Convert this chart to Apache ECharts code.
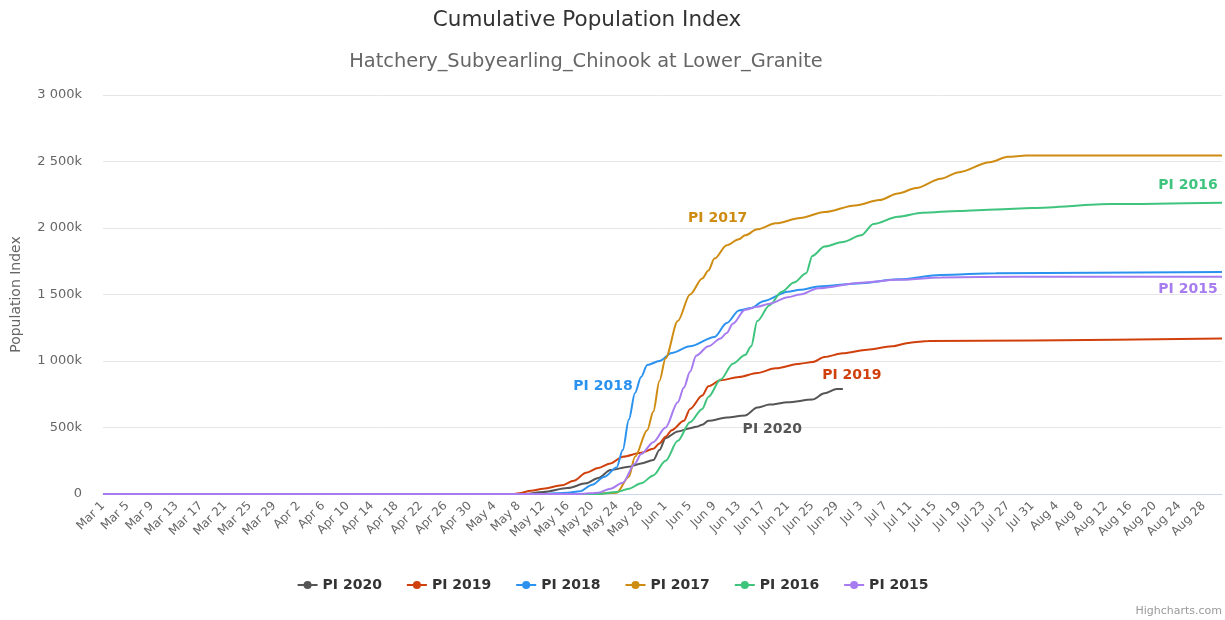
<!DOCTYPE html>
<html>
<head>
<meta charset="utf-8">
<script src="https://cdn.jsdelivr.net/npm/echarts@6/dist/echarts.min.js"></script>
<style>
  html, body { margin: 0; padding: 0; background: #fff; }
  #chart { width: 1225px; height: 620px; }
</style>
</head>
<body>
<div id="chart"></div>
<script>
// x axis: every day from Mar 1 to Aug 31
const months = ['Mar', 'Apr', 'May', 'Jun', 'Jul', 'Aug'];
const monthDays = [31, 30, 31, 30, 31, 31];
const dates = [];
months.forEach(function (m, i) {
  for (let d = 1; d <= monthDays[i]; d++) dates.push(m + ' ' + d);
});

// cumulative population index, in thousands, [date, value]
const pi2020 = [['Mar 1', 0], ['May 9', 0], ['May 12', 15], ['May 16', 45], ['May 19', 80], ['May 21', 120],
  ['May 23', 180], ['May 26', 205], ['May 28', 230], ['May 30', 255], ['May 31', 330], ['Jun 1', 420],
  ['Jun 3', 470], ['Jun 5', 494], ['Jun 6', 505], ['Jun 7', 520], ['Jun 8', 550], ['Jun 11', 575],
  ['Jun 14', 590], ['Jun 16', 650], ['Jun 18', 672], ['Jun 21', 690], ['Jun 25', 710], ['Jun 27', 757],
  ['Jun 29', 789], ['Jun 30', 790]];

const pi2019 = [['Mar 1', 0], ['May 7', 0], ['May 8', 5], ['May 10', 25], ['May 12', 40], ['May 15', 65],
  ['May 17', 100], ['May 19', 160], ['May 21', 195], ['May 23', 230], ['May 25', 280], ['May 28', 310],
  ['May 30', 340], ['May 31', 380], ['Jun 1', 430], ['Jun 2', 480], ['Jun 4', 550], ['Jun 5', 640],
  ['Jun 7', 740], ['Jun 8', 810], ['Jun 10', 855], ['Jun 13', 880], ['Jun 16', 910], ['Jun 19', 945],
  ['Jun 23', 980], ['Jun 25', 992], ['Jun 27', 1030], ['Jun 30', 1058], ['Jul 4', 1085], ['Jul 8', 1110],
  ['Jul 11', 1138], ['Jul 14', 1150], ['Jul 31', 1155], ['Aug 31', 1170]];

const pi2018 = [['Mar 1', 0], ['May 12', 0], ['May 16', 10], ['May 18', 20], ['May 20', 70], ['May 22', 130],
  ['May 24', 200], ['May 25', 330], ['May 26', 560], ['May 27', 760], ['May 28', 880], ['May 29', 970],
  ['May 31', 1000], ['Jun 2', 1060], ['Jun 5', 1110], ['Jun 9', 1180], ['Jun 11', 1285], ['Jun 13', 1380],
  ['Jun 15', 1398], ['Jun 17', 1450], ['Jun 21', 1520], ['Jun 23', 1535], ['Jun 26', 1560], ['Jul 3', 1585],
  ['Jul 9', 1614], ['Jul 16', 1647], ['Jul 25', 1660], ['Aug 31', 1670]];

const pi2017 = [['Mar 1', 0], ['May 20', 0], ['May 24', 10], ['May 26', 130], ['May 27', 280], ['May 29', 480],
  ['May 30', 620], ['May 31', 850], ['Jun 1', 1020], ['Jun 3', 1300], ['Jun 5', 1500], ['Jun 7', 1620],
  ['Jun 8', 1680], ['Jun 9', 1770], ['Jun 11', 1870], ['Jun 13', 1915], ['Jun 14', 1945], ['Jun 16', 1990],
  ['Jun 19', 2035], ['Jun 23', 2075], ['Jun 27', 2120], ['Jul 2', 2170], ['Jul 6', 2210], ['Jul 9', 2260],
  ['Jul 12', 2300], ['Jul 16', 2370], ['Jul 19', 2420], ['Jul 24', 2495], ['Jul 27', 2535], ['Jul 30', 2545],
  ['Aug 31', 2545]];

const pi2016 = [['Mar 1', 0], ['May 21', 0], ['May 24', 15], ['May 26', 40], ['May 28', 80], ['May 30', 140],
  ['Jun 1', 250], ['Jun 3', 400], ['Jun 5', 540], ['Jun 7', 640], ['Jun 8', 730], ['Jun 10', 860],
  ['Jun 12', 980], ['Jun 14', 1045], ['Jun 15', 1110], ['Jun 16', 1300], ['Jun 18', 1420], ['Jun 20', 1520],
  ['Jun 22', 1590], ['Jun 24', 1660], ['Jun 25', 1790], ['Jun 27', 1860], ['Jun 30', 1895], ['Jul 3', 1945],
  ['Jul 5', 2030], ['Jul 9', 2085], ['Jul 13', 2115], ['Jul 19', 2128], ['Jul 25', 2140], ['Jul 31', 2150],
  ['Aug 13', 2180], ['Aug 31', 2190]];

const pi2015 = [['Mar 1', 0], ['May 18', 0], ['May 21', 10], ['May 23', 40], ['May 25', 85], ['May 27', 230],
  ['May 28', 300], ['May 30', 390], ['Jun 1', 500], ['Jun 3', 690], ['Jun 4', 800], ['Jun 5', 920],
  ['Jun 6', 1040], ['Jun 8', 1110], ['Jun 10', 1170], ['Jun 11', 1210], ['Jun 12', 1280], ['Jun 14', 1385],
  ['Jun 16', 1408], ['Jun 18', 1430], ['Jun 21', 1480], ['Jun 23', 1500], ['Jun 26', 1547], ['Jul 3', 1589],
  ['Jul 9', 1610], ['Jul 16', 1628], ['Jul 29', 1634], ['Aug 31', 1634]];

const seriesNames = ['PI 2020', 'PI 2019', 'PI 2018', 'PI 2017', 'PI 2016', 'PI 2015'];
const seriesData = [pi2020, pi2019, pi2018, pi2017, pi2016, pi2015];
const colors = ['#555555', '#d0400c', '#2b93ef', '#cf8c12', '#3fc47e', '#a77cf0'];
// which point carries the series name, and where the name sits from it
const labelPoint = ['Jun 16', 'Jun 30', 'May 27', 'Jun 11', 'Aug 31', 'Aug 31'];
const labelOffset = [[15, 22], [9, 22], [-32, -7], [-9, -27], [-34, -17], [-34, 13]];

const FONT = 'DejaVu Sans';

var chart = echarts.init(document.getElementById('chart'));

var series = seriesNames.map(function (name, i) {
  var pt = seriesData[i].find(function (p) { return p[0] === labelPoint[i]; });
  return {
    name: name,
    type: 'line',
    data: seriesData[i],
    color: colors[i],
    symbol: 'circle',
    symbolSize: 8,
    showSymbol: false,
    smooth: 0.3,
    smoothMonotone: 'x',
    lineStyle: { width: 2 },
    emphasis: { disabled: true },
    markPoint: {
      symbol: 'circle',
      symbolSize: 0,
      silent: true,
      data: [{ coord: pt, value: name }],
      label: {
        show: true,
        position: 'inside',
        offset: labelOffset[i],
        formatter: name,
        color: colors[i],
        fontSize: 14,
        fontWeight: 'bold',
        fontFamily: FONT
      }
    }
  };
});

var option = {
  animation: false,
  textStyle: { fontFamily: FONT },
  title: [
    {
      text: 'Cumulative Population Index',
      left: 582,
      textAlign: 'center',
      top: 4,
      textStyle: { fontSize: 21.5, fontWeight: 'normal', color: '#333333', fontFamily: FONT }
    },
    {
      text: 'Hatchery_Subyearling_Chinook at Lower_Granite',
      left: 581,
      textAlign: 'center',
      top: 47,
      textStyle: { fontSize: 19.4, fontWeight: 'normal', color: '#666666', fontFamily: FONT }
    },
    {
      text: 'Highcharts.com',
      right: 3,
      bottom: 3,
      padding: 0,
      textStyle: { fontSize: 11, fontWeight: 'normal', color: '#999999', fontFamily: FONT }
    }
  ],
  legend: {
    bottom: 23,
    left: 'center',
    itemWidth: 20,
    itemHeight: 10,
    itemGap: 24,
    data: seriesNames,
    textStyle: { fontSize: 14, fontWeight: 'bold', color: '#333333', fontFamily: FONT }
  },
  grid: { left: 103, right: 3, top: 95, bottom: 126, outerBoundsMode: 'none' },
  xAxis: {
    type: 'category',
    data: dates,
    boundaryGap: false,
    axisLine: { lineStyle: { color: '#ccd6eb' } },
    axisTick: { show: false },
    axisLabel: {
      interval: 3,
      rotate: 45,
      color: '#666666',
      fontSize: 12,
      margin: 10
    },
    splitLine: { show: false }
  },
  yAxis: {
    type: 'value',
    min: 0,
    max: 3000,
    interval: 500,
    name: 'Population Index',
    nameLocation: 'middle',
    nameGap: 80,
    nameTextStyle: { color: '#666666', fontSize: 14 },
    axisLine: { show: false },
    axisTick: { show: false },
    axisLabel: {
      color: '#666666',
      fontSize: 13,
      margin: 21,
      align: 'right',
      formatter: function (v) {
        if (v === 0) return '0';
        var s = String(v);
        if (s.length > 3) s = s.slice(0, s.length - 3) + ' ' + s.slice(-3);
        return s + 'k';
      }
    },
    splitLine: { lineStyle: { color: '#e6e6e6' } }
  },
  series: series
};

chart.setOption(option);
</script>
</body>
</html>
